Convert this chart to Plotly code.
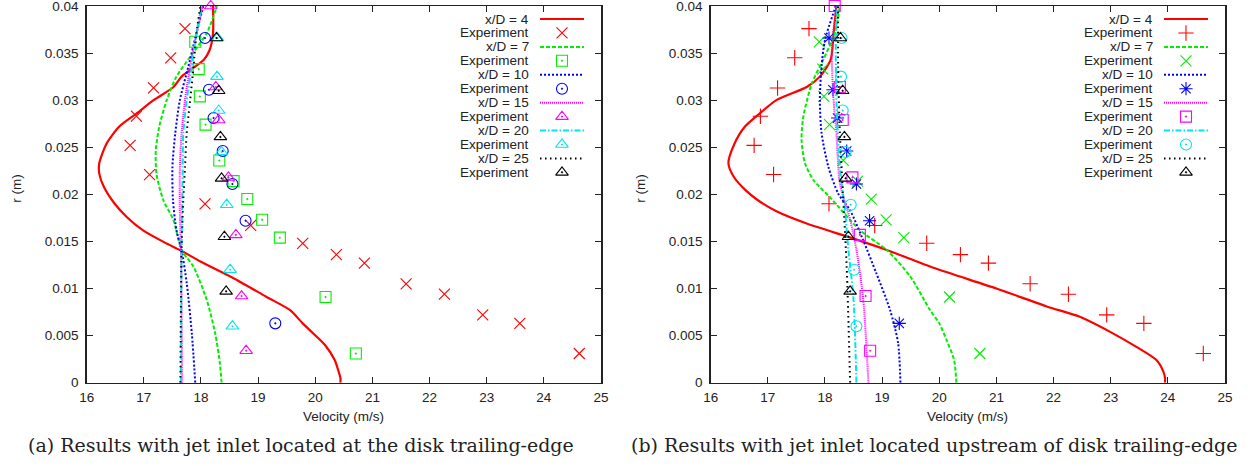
import plotly.graph_objects as go

W, H = 1251, 466

# ---------------- data ----------------
# Experimental data (same measurements in both panels)
exp4_v = [17.72, 17.47, 17.17, 16.87, 16.76, 17.10, 18.07, 18.87, 19.78, 20.37, 20.86, 21.59, 22.26, 22.93, 23.58, 24.62]
exp4_r = [0.0376, 0.0345, 0.0313, 0.0283, 0.0252, 0.0221, 0.0190, 0.0167, 0.0148, 0.0136, 0.0127, 0.0105, 0.0094, 0.0072, 0.0063, 0.0031]
exp7_v = [17.90, 17.96, 17.98, 18.08, 18.32, 18.57, 18.81, 19.07, 19.38, 20.18, 20.71]
exp7_r = [0.0362, 0.0333, 0.0304, 0.0274, 0.0236, 0.0214, 0.0195, 0.0173, 0.0154, 0.0091, 0.0031]
exp10_v = [18.07, 18.14, 18.22, 18.38, 18.55, 18.78, 19.30]
exp10_r = [0.0366, 0.0311, 0.0281, 0.0246, 0.0211, 0.0172, 0.0063]
exp15_v = [18.17, 18.26, 18.31, 18.48, 18.61, 18.71, 18.79]
exp15_r = [0.0400, 0.0314, 0.0279, 0.0218, 0.0157, 0.0092, 0.0034]
exp20_v = [18.29, 18.28, 18.31, 18.36, 18.45, 18.51, 18.55]
exp20_r = [0.0366, 0.0325, 0.0289, 0.0245, 0.0189, 0.0120, 0.0060]
exp25_v = [18.27, 18.31, 18.34, 18.36, 18.41, 18.44]
exp25_r = [0.0366, 0.0310, 0.0261, 0.0217, 0.0155, 0.0097]

# (a) CFD: jet inlet at the disk trailing-edge
a4_r = [0, 0.0005, 0.00135, 0.0024, 0.0040, 0.0052, 0.0063, 0.0077, 0.0091, 0.0111, 0.0129, 0.0140, 0.0149, 0.0162, 0.0176, 0.0190, 0.0208, 0.0222, 0.0233, 0.0253, 0.0272, 0.0286, 0.0300, 0.0314, 0.0325, 0.0343, 0.0353, 0.0371, 0.0400]
a4_v = [20.44, 20.44, 20.40, 20.34, 20.17, 19.97, 19.78, 19.56, 19.15, 18.57, 17.98, 17.66, 17.36, 16.98, 16.70, 16.49, 16.30, 16.22, 16.22, 16.34, 16.57, 16.875, 17.17, 17.52, 17.66, 18.05, 18.15, 18.21, 18.21]
a7_r = [0, 0.0021, 0.0052, 0.0088, 0.0123, 0.0141, 0.01725, 0.0194, 0.0222, 0.0247, 0.0272, 0.0300, 0.0325, 0.0346, 0.0371, 0.0400]
a7_v = [18.36, 18.33, 18.25, 18.10, 17.87, 17.66, 17.52, 17.34, 17.22, 17.21, 17.27, 17.40, 17.57, 17.81, 18.10, 18.28]
a10_r = [0, 0.0052, 0.0106, 0.0141, 0.0162, 0.0194, 0.0229, 0.0265, 0.0300, 0.0336, 0.0371, 0.0400]
a10_v = [17.90, 17.84, 17.75, 17.66, 17.57, 17.51, 17.50, 17.55, 17.63, 17.78, 17.92, 18.04]
a15_r = [0, 0.0141, 0.0180, 0.0229, 0.0265, 0.0300, 0.0336, 0.0364, 0.0400]
a15_v = [17.67, 17.65, 17.63, 17.63, 17.66, 17.72, 17.81, 17.90, 18.03]
a20_r = [0, 0.0141, 0.0229, 0.0265, 0.0300, 0.0336, 0.0371, 0.0400]
a20_v = [17.65, 17.66, 17.68, 17.69, 17.75, 17.84, 17.92, 18.01]
a25_r = [0, 0.0141, 0.0194, 0.0229, 0.0265, 0.0300, 0.0336, 0.0371, 0.0400]
a25_v = [17.64, 17.66, 17.69, 17.72, 17.75, 17.81, 17.87, 17.92, 17.99]

# (b) CFD: jet inlet upstream of disk trailing-edge
b4_r = [0, 0.0005, 0.0012, 0.0024, 0.0038, 0.0054, 0.0070, 0.0081, 0.0100, 0.0122, 0.0141, 0.0153, 0.0169, 0.0182, 0.0194, 0.0205, 0.0219, 0.0233, 0.0253, 0.0272, 0.0286, 0.0300, 0.0314, 0.0325, 0.0343, 0.0371, 0.0400]
b4_v = [23.95, 23.95, 23.92, 23.80, 23.45, 22.99, 22.46, 21.88, 21.00, 19.90, 19.08, 18.50, 17.68, 17.15, 16.82, 16.60, 16.40, 16.31, 16.41, 16.60, 16.86, 17.15, 17.68, 17.91, 18.10, 18.15, 18.20]
b7_r = [0, 0.0024, 0.0045, 0.0063, 0.0077, 0.0113, 0.0141, 0.0162, 0.0196, 0.0215, 0.0233, 0.0258, 0.0282, 0.0318, 0.0343, 0.0371, 0.0400]
b7_v = [20.30, 20.26, 20.13, 20.00, 19.84, 19.49, 19.08, 18.61, 18.10, 17.80, 17.65, 17.59, 17.62, 17.77, 17.97, 18.17, 18.26]
b10_r = [0, 0.0042, 0.0077, 0.0116, 0.0151, 0.0183, 0.0201, 0.0229, 0.0265, 0.0300, 0.0336, 0.0364, 0.0400]
b10_v = [19.32, 19.28, 19.14, 18.90, 18.67, 18.44, 18.23, 18.06, 17.94, 17.91, 17.94, 18.00, 18.19]
b15_r = [0, 0.0088, 0.0141, 0.0173, 0.0212, 0.0265, 0.0300, 0.0353, 0.0400]
b15_v = [18.76, 18.67, 18.55, 18.44, 18.26, 18.20, 18.15, 18.12, 18.20]
b20_r = [0, 0.0088, 0.0141, 0.0183, 0.0229, 0.0300, 0.0371, 0.0400]
b20_v = [18.55, 18.50, 18.41, 18.35, 18.26, 18.20, 18.19, 18.22]
b25_r = [0, 0.0123, 0.0194, 0.0265, 0.0336, 0.0400]
b25_v = [18.44, 18.38, 18.32, 18.26, 18.23, 18.23]

line_names = ["x/D = 4", "x/D = 7", "x/D = 10", "x/D = 15", "x/D = 20", "x/D = 25"]
exp_name = "Experiment"
x_ticks = [16, 17, 18, 19, 20, 21, 22, 23, 24, 25]
y_ticks = [0, 0.005, 0.01, 0.015, 0.02, 0.025, 0.03, 0.035, 0.04]
y_tick_labels = ["0", "0.005", "0.01", "0.015", "0.02", "0.025", "0.03", "0.035", "0.04"]
x_title = "Velocity (m/s)"
y_title = "r (m)"
captions = ["(a) Results with jet inlet located at the disk trailing-edge",
            "(b) Results with jet inlet located upstream of disk trailing-edge"]

# ---------------- styles ----------------
colors = ["#ff0000", "#00ee00", "#0000ff", "#ff00ff", "#00e5ee", "#000000"]
dashes = ["solid", "4px,2px", "2px,2px", "1px,1px", "6px,2px,1.5px,2px", "1.5px,3.5px"]
symbols_a = ["x-thin-open", "square-open-dot", "circle-open-dot", "triangle-up-open-dot", "triangle-up-open-dot", "triangle-up-open-dot"]
symbols_b = ["cross-thin-open", "x-thin-open", "asterisk-open", "square-open-dot", "circle-open-dot", "triangle-up-open-dot"]
msize = [11, 11, 11, 11, 11, 11]
msize_b = [11, 11, 11, 11, 11, 11]

FONT = "Liberation Sans, Arial, sans-serif"
FS = 13.5
TXT = "#222"


def px(x):
    return x / W


def py(y):
    return 1 - y / H


# geometry in page pixels
plot_l = [86.7, 710.7]
plot_w = 514.3
plot_top, plot_bot = 6.0, 382.7

exp_v = [exp4_v, exp7_v, exp10_v, exp15_v, exp20_v, exp25_v]
exp_r = [exp4_r, exp7_r, exp10_r, exp15_r, exp20_r, exp25_r]
cfd = [
    [(a4_v, a4_r), (a7_v, a7_r), (a10_v, a10_r), (a15_v, a15_r), (a20_v, a20_r), (a25_v, a25_r)],
    [(b4_v, b4_r), (b7_v, b7_r), (b10_v, b10_r), (b15_v, b15_r), (b20_v, b20_r), (b25_v, b25_r)],
]
symbols = [symbols_a, symbols_b]
sizes = [msize, msize_b]

fig = go.Figure()
for p in range(2):
    xa = "x" if p == 0 else "x2"
    ya = "y" if p == 0 else "y2"
    for i in range(6):
        v, r = cfd[p][i]
        fig.add_trace(go.Scatter(x=v, y=r, mode="lines", xaxis=xa, yaxis=ya,
                                 line=dict(color=colors[i], width=2 if i else 2.2, dash=dashes[i],
                                           shape="spline", smoothing=0.7),
                                 showlegend=False, hoverinfo="skip"))
        fig.add_trace(go.Scatter(x=exp_v[i], y=exp_r[i], mode="markers", xaxis=xa, yaxis=ya,
                                 marker=dict(symbol=symbols[p][i], size=sizes[p][i], color=colors[i],
                                             line=dict(color=colors[i], width=1.1)),
                                 cliponaxis=False, showlegend=False, hoverinfo="skip"))

# ---------------- custom gnuplot-style key ----------------
key_y0, key_dy = 19.0, 13.94
key_text_x = [531.0, 1155.0]
key_x0 = [540.0, 1164.0]
key_x1 = [584.0, 1208.0]
annotations = []
for p in range(2):
    for i in range(6):
        yl = key_y0 + (2 * i) * key_dy
        ym = key_y0 + (2 * i + 1) * key_dy
        fig.add_trace(go.Scatter(x=[key_x0[p], key_x1[p]], y=[yl, yl], mode="lines",
                                 xaxis="x3", yaxis="y3",
                                 line=dict(color=colors[i], width=2 if i else 2.2, dash=dashes[i]),
                                 showlegend=False, hoverinfo="skip"))
        fig.add_trace(go.Scatter(x=[(key_x0[p] + key_x1[p]) / 2], y=[ym], mode="markers",
                                 xaxis="x3", yaxis="y3",
                                 marker=dict(symbol=symbols[p][i], size=sizes[p][i], color=colors[i],
                                             line=dict(color=colors[i], width=1.1)),
                                 showlegend=False, hoverinfo="skip"))
        for txt, yy in ((line_names[i], yl), (exp_name, ym)):
            annotations.append(dict(x=px(key_text_x[p]), y=py(yy), xref="paper", yref="paper",
                                    text=txt, showarrow=False, xanchor="right", yanchor="middle",
                                    font=dict(family=FONT, size=FS, color=TXT)))

# axis titles and captions
cap_cx = [301.0, 934.0]
for p in range(2):
    annotations.append(dict(x=px(plot_l[p] - 71), y=py(189), xref="paper", yref="paper",
                            text=y_title, textangle=-90, showarrow=False, xanchor="center", yanchor="middle",
                            font=dict(family=FONT, size=FS, color=TXT)))
    annotations.append(dict(x=px(plot_l[p] + 256.5), y=py(416), xref="paper", yref="paper",
                            text=x_title, showarrow=False, xanchor="center", yanchor="middle",
                            font=dict(family=FONT, size=FS, color=TXT)))
    annotations.append(dict(x=px(cap_cx[p]), y=py(445), xref="paper", yref="paper",
                            text=captions[p], showarrow=False, xanchor="center", yanchor="middle",
                            font=dict(family="DejaVu Serif, serif", size=19, color=TXT)))

ydom = [py(plot_bot), py(plot_top)]
common_x = dict(range=[16, 25], tickvals=x_ticks, ticks="inside", ticklen=6, tickwidth=1,
                tickcolor=TXT, showline=True, linecolor=TXT, linewidth=1.5, mirror="ticks",
                showgrid=False, zeroline=False, tickfont=dict(family=FONT, size=FS, color=TXT),
                ticklabelstandoff=2, automargin=False, ticklabeloverflow="allow")
common_y = dict(range=[0, 0.04], tickvals=y_ticks, ticktext=y_tick_labels, ticks="inside", ticklen=6,
                tickwidth=1, tickcolor=TXT, showline=True, linecolor=TXT, linewidth=1.5,
                mirror="ticks", showgrid=False, zeroline=False,
                tickfont=dict(family=FONT, size=FS, color=TXT), ticklabelstandoff=4,
                automargin=False, ticklabeloverflow="allow")

fig.update_layout(
    width=W, height=H, margin=dict(l=0, r=0, t=0, b=0, pad=0, autoexpand=False),
    paper_bgcolor="white", plot_bgcolor="rgba(0,0,0,0)", showlegend=False,
    xaxis=dict(domain=[px(plot_l[0]), px(plot_l[0] + plot_w)], anchor="y", **common_x),
    yaxis=dict(domain=ydom, anchor="x", **common_y),
    xaxis2=dict(domain=[px(plot_l[1]), px(plot_l[1] + plot_w)], anchor="y2", **common_x),
    yaxis2=dict(domain=ydom, anchor="x2", **common_y),
    xaxis3=dict(domain=[0, 1], anchor="y3", range=[0, W], visible=False, fixedrange=True, automargin=False),
    yaxis3=dict(domain=[0, 1], anchor="x3", range=[H, 0], visible=False, fixedrange=True, automargin=False),
    annotations=annotations,
)

# remove the browser's default 8px body margin so the figure sits at the page's top-left corner
fig.write_html("out.html", config={"displayModeBar": False, "staticPlot": True},
               post_script="document.body.style.margin='0px';document.body.style.padding='0px';")
